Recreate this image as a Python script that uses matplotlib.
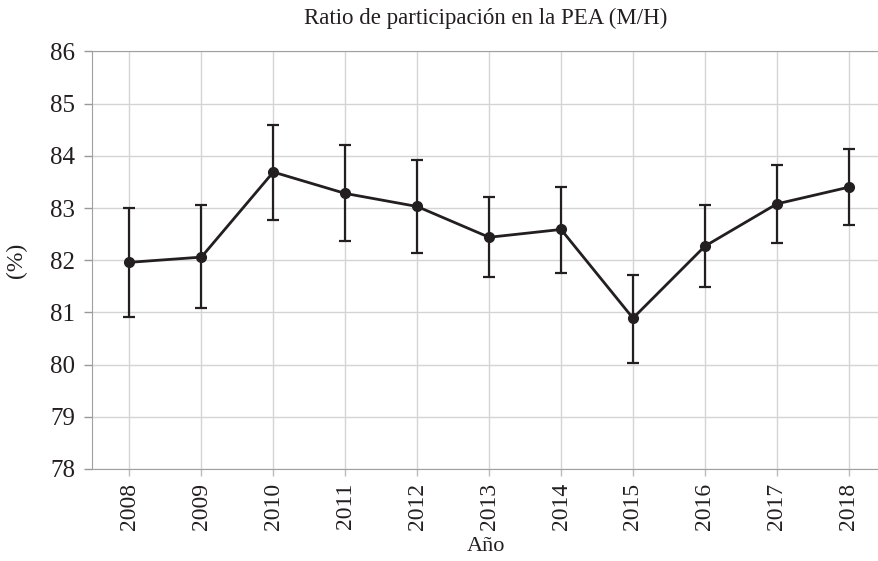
import matplotlib
matplotlib.use("Agg")
import matplotlib.pyplot as plt
import numpy as np

# Values
years = ["2008", "2009", "2010", "2011", "2012", "2013",
         "2014", "2015", "2016", "2017", "2018"]
ratio = [81.96, 82.06, 83.69, 83.28, 83.03, 82.44, 82.59, 80.89, 82.27, 83.08, 83.40]
upper = [83.00, 83.05, 84.59, 84.21, 83.93, 83.22, 83.41, 81.72, 83.05, 83.83, 84.13]
lower = [80.92, 81.09, 82.77, 82.36, 82.13, 81.67, 81.76, 80.04, 81.48, 82.34, 82.68]

plt.rcParams["font.family"] = ["Liberation Serif", "DejaVu Serif"]
ink = "#231f20"

fig = plt.figure(figsize=(8.79, 5.61), dpi=100)
ax = fig.add_axes([0.1047, 0.164, 0.8953, 0.7442])

x = np.arange(len(years))
yerr = [np.array(ratio) - np.array(lower), np.array(upper) - np.array(ratio)]
ax.errorbar(x, ratio, yerr=yerr, color=ink, linewidth=2, marker="o",
            markersize=7, elinewidth=1.6, capsize=4.5, capthick=1.6, zorder=3)

ax.set_xlim(-0.52, 10.42)
ax.set_ylim(78, 86)
ax.set_yticks(range(78, 87))
ax.set_xticks(x)
ax.set_xticklabels(years, rotation=90)
ax.tick_params(axis="x", labelsize=17, colors="#bbbbbb", labelcolor=ink,
               length=5, width=1, pad=5)
ax.tick_params(axis="y", labelsize=18, colors="#999999", labelcolor=ink,
               length=6, width=1, pad=6)

ax.grid(True, color="#d4d4d4", linewidth=1)
ax.set_axisbelow(True)
ax.spines["right"].set_visible(False)
for side in ["left", "bottom", "top"]:
    ax.spines[side].set_color("#a0a0a0")

ax.set_title("Ratio de participación en la PEA (M/H)", fontsize=16.5, color=ink, pad=20)
ax.set_xlabel("Año", fontsize=16, color=ink)
ax.set_ylabel("(%)", fontsize=17, color=ink)
ax.xaxis.set_label_coords(0.5, -0.163)
ax.yaxis.set_label_coords(-0.0826, 0.5)

fig.savefig("out.png", dpi=100)
